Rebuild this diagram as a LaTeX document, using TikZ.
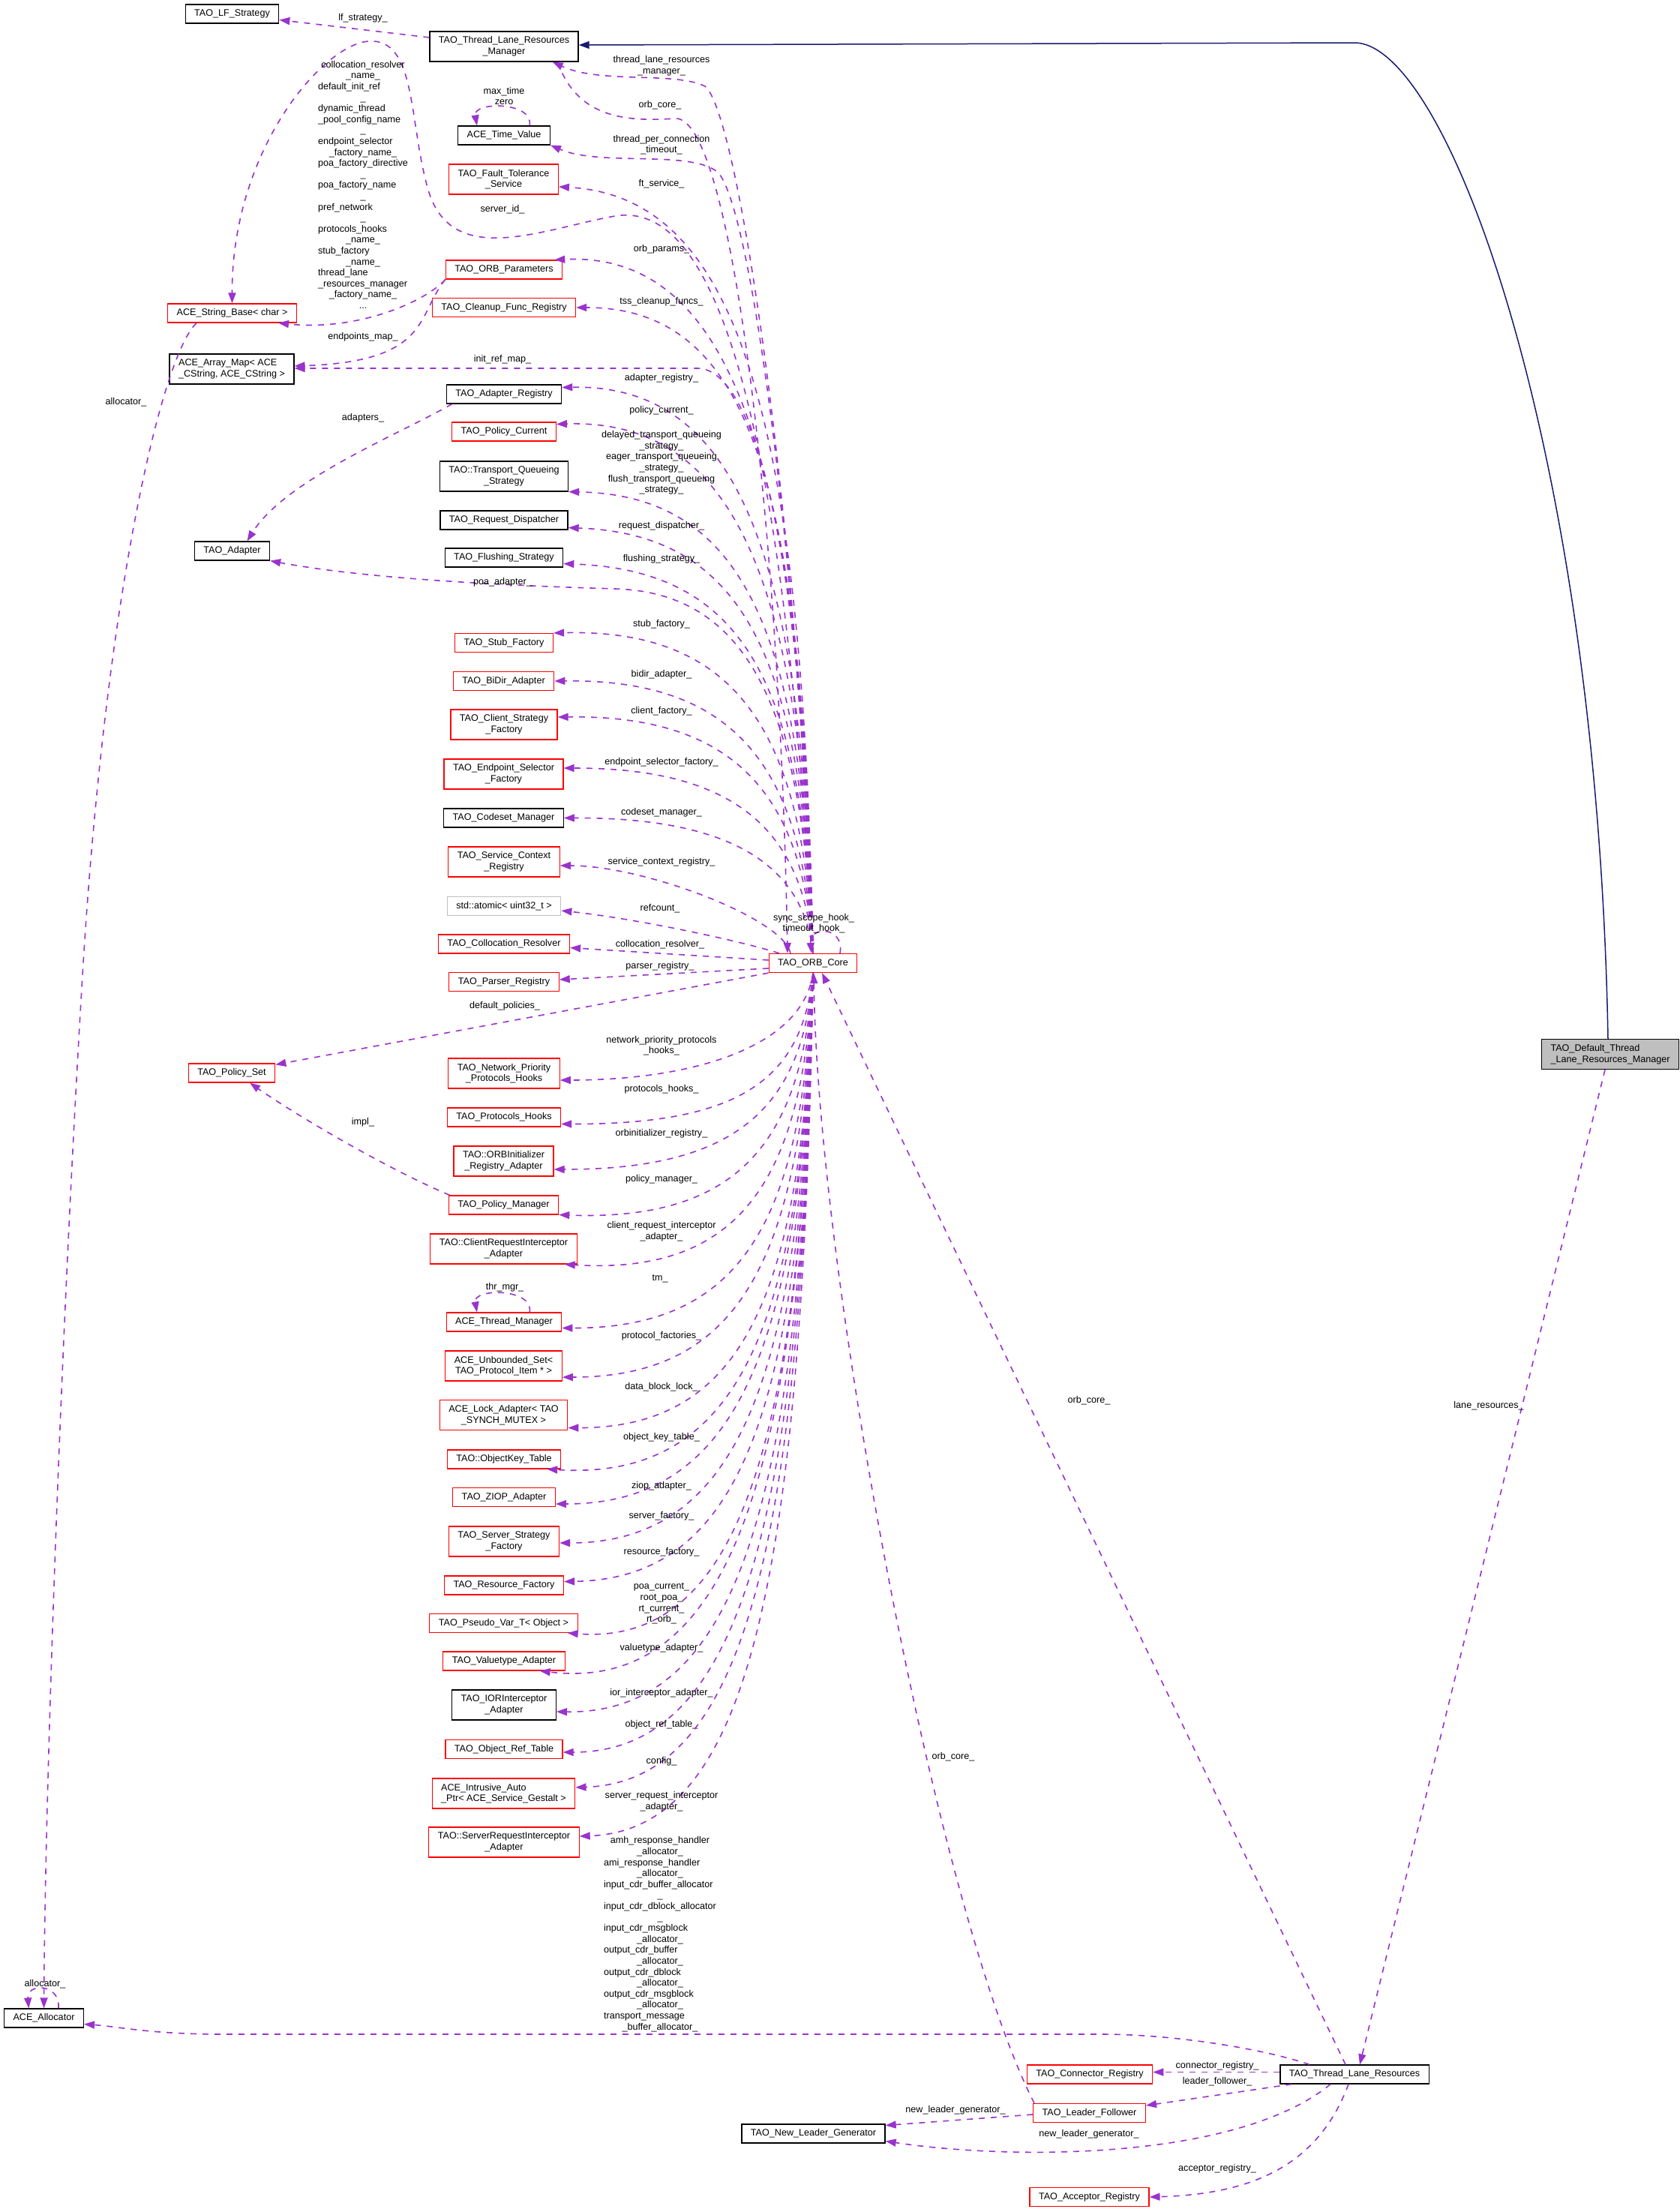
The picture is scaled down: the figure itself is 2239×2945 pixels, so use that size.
\documentclass[tikz,border=0pt]{standalone}
\usepackage{fontspec}
\setmainfont{Liberation Sans}
\usetikzlibrary{arrows.meta}
\newcommand{\dxfont}{\fontsize{12.6}{14.6}\selectfont}
\newcommand{\mcen}[1]{\multicolumn{1}{@{}c@{}}{#1}}
\definecolor{membercol}{HTML}{9A32CD}
\definecolor{basecol}{HTML}{191970}
\definecolor{rootfill}{HTML}{BFBFBF}

\begin{document}
\begin{tikzpicture}[
    x=1pt, y=-1pt,
    cls/.style={draw=black, line width=1.2pt, fill=white, inner xsep=12pt, inner ysep=0pt, minimum height=25pt, font=\dxfont, align=center},
    trunc/.style={cls, draw=red},
    tall/.style={minimum height=40pt},
    member/.style={draw=membercol, line width=1.6pt, dash pattern=on 8pt off 8pt, -{Triangle[length=14pt, width=10pt]}},
    base/.style={draw=basecol, line width=1.5pt, -{Triangle[length=14pt, width=10pt]}},
    lbl/.style={font=\dxfont, align=center, inner sep=0pt}]
\useasboundingbox (0,0) rectangle (2239,2945);

\node[cls] (lfstrat) at (309.5,18.5) {TAO\_LF\_Strategy};
\node[cls, tall] (tlrmgr) at (672,62) {TAO\_Thread\_Lane\_Resources\\\_Manager};
\node[cls] (timeval) at (672,180.5) {ACE\_Time\_Value};
\node[trunc, tall] (ftserv) at (671.5,239) {TAO\_Fault\_Tolerance\\\_Service};
\node[trunc] (orbparams) at (672,359.5) {TAO\_ORB\_Parameters};
\node[trunc] (cleanup) at (672,410) {TAO\_Cleanup\_Func\_Registry};
\node[trunc] (strbase) at (309.5,417.5) {ACE\_String\_Base< char >};
\node[cls, tall, align=left] (arraymap) at (309,492) {ACE\_Array\_Map< ACE\\\_CString, ACE\_CString >};
\node[cls] (adreg) at (672,525.5) {TAO\_Adapter\_Registry};
\node[trunc] (polcur) at (672,575.5) {TAO\_Policy\_Current};
\node[cls, tall] (tqstrat) at (672,635) {TAO::Transport\_Queueing\\\_Strategy};
\node[cls] (reqdisp) at (672,693.5) {TAO\_Request\_Dispatcher};
\node[cls] (flushstrat) at (672,743.5) {TAO\_Flushing\_Strategy};
\node[cls] (adapter) at (309.5,734.5) {TAO\_Adapter};
\node[trunc] (stubfac) at (672,857) {TAO\_Stub\_Factory};
\node[trunc] (bidir) at (671.5,908) {TAO\_BiDir\_Adapter};
\node[trunc, tall] (clientfac) at (672,966) {TAO\_Client\_Strategy\\\_Factory};
\node[trunc, tall] (epselfac) at (671.5,1032) {TAO\_Endpoint\_Selector\\\_Factory};
\node[cls] (codeset) at (671.5,1090.5) {TAO\_Codeset\_Manager};
\node[trunc, tall] (scr) at (672,1149) {TAO\_Service\_Context\\\_Registry};
\node[cls, draw=rootfill] (atomic) at (672,1208) {std::atomic< uint32\_t >};
\node[trunc] (colloc) at (672,1258.5) {TAO\_Collocation\_Resolver};
\node[trunc] (parser) at (672,1309) {TAO\_Parser\_Registry};
\node[trunc] (orbcore) at (1084,1284) {TAO\_ORB\_Core};
\node[cls, tall, align=left, fill=rootfill] (deftlrm) at (2147,1405.5) {TAO\_Default\_Thread\\\_Lane\_Resources\_Manager};
\node[trunc] (policyset) at (309,1430.5) {TAO\_Policy\_Set};
\node[trunc, tall] (nphooks) at (672,1431) {TAO\_Network\_Priority\\\_Protocols\_Hooks};
\node[trunc] (phooks) at (672,1489.5) {TAO\_Protocols\_Hooks};
\node[trunc, tall] (orbinit) at (671.5,1548) {TAO::ORBInitializer\\\_Registry\_Adapter};
\node[trunc] (polmgr) at (671.5,1606.5) {TAO\_Policy\_Manager};
\node[trunc, tall] (cria) at (671.5,1665) {TAO::ClientRequestInterceptor\\\_Adapter};
\node[trunc] (thrmgr) at (672,1762.5) {ACE\_Thread\_Manager};
\node[trunc, tall] (unbset) at (671.5,1821) {ACE\_Unbounded\_Set<\\TAO\_Protocol\_Item * >};
\node[trunc, tall] (lockad) at (671.5,1886.5) {ACE\_Lock\_Adapter< TAO\\\_SYNCH\_MUTEX >};
\node[trunc] (objkey) at (672,1945.5) {TAO::ObjectKey\_Table};
\node[trunc] (ziop) at (672,1996) {TAO\_ZIOP\_Adapter};
\node[trunc, tall] (srvfac) at (672,2055) {TAO\_Server\_Strategy\\\_Factory};
\node[trunc] (resfac) at (672,2113.5) {TAO\_Resource\_Factory};
\node[trunc] (pseudovar) at (671.5,2164) {TAO\_Pseudo\_Var\_T< Object >};
\node[trunc] (valtype) at (672,2214.5) {TAO\_Valuetype\_Adapter};
\node[cls, tall] (iorint) at (672,2273) {TAO\_IORInterceptor\\\_Adapter};
\node[trunc] (objref) at (672,2332) {TAO\_Object\_Ref\_Table};
\node[trunc, tall, align=left] (intrusive) at (671.5,2391) {ACE\_Intrusive\_Auto\\\_Ptr< ACE\_Service\_Gestalt >};
\node[trunc, tall] (sria) at (672,2456) {TAO::ServerRequestInterceptor\\\_Adapter};
\node[cls] (allocator) at (58.5,2690.5) {ACE\_Allocator};
\node[cls] (newleader) at (1084.5,2844.5) {TAO\_New\_Leader\_Generator};
\node[trunc] (connreg) at (1453,2765.5) {TAO\_Connector\_Registry};
\node[cls] (tlr) at (1806,2765.5) {TAO\_Thread\_Lane\_Resources};
\node[trunc] (leaderf) at (1452.5,2817) {TAO\_Leader\_Follower};
\node[trunc] (accreg) at (1452.5,2929) {TAO\_Acceptor\_Registry};

\draw[base] ([xshift=-3pt]deftlrm.north) .. controls (2130,600) and (1930,57) .. (1806,57) -- ([yshift=2pt]tlrmgr.east);

\draw[member] ([yshift=12pt]tlrmgr.west) -- ([yshift=-8pt]lfstrat.east) node[lbl] at (484,24) {lf\_strategy\_};
\draw[member] ([xshift=-28pt]tlrmgr.south east) .. controls (770,160) and (840,162) .. (900,158) .. controls (975,152) and (1040,700) .. ([xshift=-34pt]orbcore.north) node[lbl] at (880,140) {orb\_core\_};

\draw[member] (orbcore.north) .. controls (1065,700) and (985,150) .. (940,115) .. controls (900,95) and (800,112) .. ([xshift=-35pt]tlrmgr.south east) node[lbl] at (882,88) {thread\_lane\_resources\\\_manager\_};
\draw[member] (orbcore.north) .. controls (1065,750) and (1000,260) .. (955,228) .. controls (915,200) and (800,222) .. (timeval.south east) node[lbl] at (882,193) {thread\_per\_connection\\\_timeout\_};
\draw[member] (orbcore.north) .. controls (1070,556) and (985,262) .. ([yshift=-10pt]ftserv.east) node[lbl] at (882,245) {ft\_service\_};
\draw[member] (orbcore.north) .. controls (1040,450) and (930,270) .. (820,288) .. controls (720,306) and (600,360) .. (570,250) .. controls (545,160) and (555,50) .. (491,55) .. controls (430,60) and (309,200) .. (strbase.north) node[lbl] at (670,279) {server\_id\_};
\draw[member] (orbcore.north) .. controls (1070,624) and (980,335) .. ([xshift=-11pt]orbparams.north east) node[lbl] at (882,332) {orb\_params\_};
\draw[member] (orbcore.north) .. controls (1070,668) and (1010,410) .. (cleanup.east) node[lbl] at (882,402) {tss\_cleanup\_funcs\_};
\draw[member] (orbcore.north) .. controls (1070,700) and (1000,491) .. (930,491) -- ([yshift=1pt]arraymap.east) node[lbl] at (670,479) {init\_ref\_map\_};
\draw[member] (orbcore.north) .. controls (1070,742) and (985,512) .. ([yshift=9pt]adreg.east) node[lbl] at (882,504) {adapter\_registry\_};
\draw[member] (orbcore.north) .. controls (1070,777) and (980,558) .. ([yshift=10pt]polcur.east) node[lbl] at (882,547) {policy\_current\_};
\draw[member] (orbcore.north) .. controls (1070,840) and (990,660) .. (tqstrat.south east) node[lbl] at (882,617) {delayed\_transport\_queueing\\\_strategy\_\\eager\_transport\_queueing\\\_strategy\_\\flush\_transport\_queueing\\\_strategy\_};
\draw[member] (orbcore.north) .. controls (1070,874) and (990,712) .. ([yshift=-10pt]reqdisp.east) node[lbl] at (882,701) {request\_dispatcher\_};
\draw[member] (orbcore.north) .. controls (1070,907) and (990,760) .. ([yshift=-8pt]flushstrat.east) node[lbl] at (882,745) {flushing\_strategy\_};
\draw[member] (orbcore.north) .. controls (1070,950) and (1000,790) .. (820,785) .. controls (650,780) and (480,770) .. (adapter.south east) node[lbl] at (670,776) {poa\_adapter\_};
\draw[member] (orbcore.north) .. controls (1070,972) and (980,838) .. (stubfac.north east) node[lbl] at (882,832) {stub\_factory\_};
\draw[member] (orbcore.north) .. controls (1070,1017) and (975,905) .. (bidir.east) node[lbl] at (882,899) {bidir\_adapter\_};
\draw[member] (orbcore.north) .. controls (1070,1050) and (970,953) .. ([yshift=10pt]clientfac.east) node[lbl] at (882,948) {client\_factory\_};
\draw[member] (orbcore.north) .. controls (1070,1098) and (970,1024) .. ([yshift=8pt]epselfac.east) node[lbl] at (882,1016) {endpoint\_selector\_factory\_};
\draw[member] (orbcore.north) .. controls (1070,1144) and (960,1090) .. (codeset.east) node[lbl] at (882,1083) {codeset\_manager\_};
\draw[member] ([xshift=-30pt]orbcore.north) .. controls (1045,1225) and (860,1154) .. ([yshift=-5pt]scr.east) node[lbl] at (882,1149) {service\_context\_registry\_};
\draw[member] ([xshift=-45pt]orbcore.north) .. controls (990,1255) and (850,1225) .. ([yshift=-6pt]atomic.east) node[lbl] at (880,1211) {refcount\_};
\draw[member] ([yshift=4pt]orbcore.west) -- ([yshift=-5pt]colloc.east) node[lbl] at (880,1259) {collocation\_resolver\_};
\draw[member] ([yshift=-7pt]orbcore.west) -- ([yshift=3pt]parser.east) node[lbl] at (880,1288) {parser\_registry\_};
\draw[member] (orbcore.south west) -- ([yshift=-2pt]policyset.north east) node[lbl] at (673,1341) {default\_policies\_};
\draw[member] (orbcore.20) to[out=80, in=95, looseness=2.5] ([xshift=-2pt]orbcore.north) node[lbl] at (1085,1231) {sync\_scope\_hook\_\\timeout\_hook\_};

\draw[member] (orbcore.south) .. controls (1070,1397) and (921,1440) .. ([yshift=-9pt]nphooks.east) node[lbl] at (882,1394) {network\_priority\_protocols\\\_hooks\_};
\draw[member] (orbcore.south) .. controls (1070,1438) and (989,1499) .. ([yshift=-9pt]phooks.east) node[lbl] at (882,1452) {protocols\_hooks\_};
\draw[member] (orbcore.south) .. controls (1070,1480) and (979,1559) .. ([yshift=-11pt]orbinit.east) node[lbl] at (882,1511) {orbinitializer\_registry\_};
\draw[member] (orbcore.south) .. controls (1070,1522) and (985,1628) .. (polmgr.south east) node[lbl] at (882,1572) {policy\_manager\_};
\draw[member] (orbcore.south) .. controls (1070,1569) and (990,1700) .. ([xshift=-17pt]cria.south east) node[lbl] at (882,1642) {client\_request\_interceptor\\\_adapter\_};
\draw[member] (orbcore.south) .. controls (1070,1628) and (990,1771) .. ([yshift=-8pt]thrmgr.east) node[lbl] at (880,1705) {tm\_};
\draw[member] (orbcore.south) .. controls (1070,1674) and (990,1836) .. ([yshift=-15pt]unbset.east) node[lbl] at (882,1781) {protocol\_factories\_};
\draw[member] (orbcore.south) .. controls (1070,1721) and (995,1904) .. ([yshift=-17pt]lockad.east) node[lbl] at (882,1849) {data\_block\_lock\_};
\draw[member] (orbcore.south) .. controls (1070,1760) and (990,1975) .. ([xshift=-19pt]objkey.south east) node[lbl] at (882,1916) {object\_key\_table\_};
\draw[member] (orbcore.south) .. controls (1070,1793) and (985,2005) .. ([yshift=-9pt]ziop.east) node[lbl] at (882,1981) {ziop\_adapter\_};
\draw[member] (orbcore.south) .. controls (1070,1829) and (990,2057) .. ([yshift=-2pt]srvfac.east) node[lbl] at (882,2021) {server\_factory\_};
\draw[member] (orbcore.south) .. controls (1070,1865) and (995,2105) .. ([yshift=5pt]resfac.east) node[lbl] at (882,2069) {resource\_factory\_};
\draw[member] (orbcore.south) .. controls (1070,1913) and (990,2195) .. ([xshift=-14pt]pseudovar.south east) node[lbl] at (882,2138) {poa\_current\_\\root\_poa\_\\rt\_current\_\\rt\_orb\_};
\draw[member] (orbcore.south) .. controls (1070,1948) and (980,2258) .. ([xshift=-34pt]valtype.south east) node[lbl] at (882,2197) {valuetype\_adapter\_};
\draw[member] (orbcore.south) .. controls (1070,1986) and (990,2285) .. ([yshift=-9pt]iorint.east) node[lbl] at (882,2257) {ior\_interceptor\_adapter\_};
\draw[member] (orbcore.south) .. controls (1070,2024) and (990,2336) .. ([yshift=-4pt]objref.east) node[lbl] at (882,2299) {object\_ref\_table\_};
\draw[member] (orbcore.south) .. controls (1070,2057) and (995,2375) .. ([yshift=8pt]intrusive.east) node[lbl] at (882,2348) {config\_};
\draw[member] (orbcore.south) .. controls (1070,2103) and (1000,2440) .. ([yshift=8pt]sria.east) node[lbl] at (882,2402) {server\_request\_interceptor\\\_adapter\_};

\draw[member] (timeval.21) to[out=80, in=100, looseness=1.2] (timeval.160) node[lbl] at (672,128) {max\_time\\zero};
\draw[member] (thrmgr.21) to[out=80, in=100, looseness=1.2] (thrmgr.160) node[lbl] at (673,1716) {thr\_mgr\_};

\draw[member] (orbparams.south west) .. controls (570,400) and (480,442) .. ([xshift=-25pt]strbase.south east) node[lbl] at (484,248) {\begin{tabular}{@{}l@{}}
\mcen{collocation\_resolver}\\
\mcen{\_name\_}\\
default\_init\_ref\\
\mcen{\_}\\
dynamic\_thread\\
\_pool\_config\_name\\
\mcen{\_}\\
endpoint\_selector\\
\mcen{\_factory\_name\_}\\
poa\_factory\_directive\\
\mcen{\_}\\
poa\_factory\_name\\
\mcen{\_}\\
pref\_network\\
\mcen{\_}\\
protocols\_hooks\\
\mcen{\_name\_}\\
stub\_factory\\
\mcen{\_name\_}\\
thread\_lane\\
\_resources\_manager\\
\mcen{\_factory\_name\_}\\
\mcen{...}
\end{tabular}};
\draw[member] (orbparams.south west) .. controls (555,420) and (575,482) .. ([yshift=4pt]arraymap.east) node[lbl] at (484,449) {endpoints\_map\_};
\draw[member] ([xshift=8pt]adreg.south west) .. controls (530,580) and (380,640) .. ([xshift=20pt]adapter.north) node[lbl] at (484,557) {adapters\_};
\draw[member] ([xshift=2pt]polmgr.north west) .. controls (520,1560) and (400,1490) .. ([xshift=24pt]policyset.south) node[lbl] at (484,1496) {impl\_};

\draw[member] ([xshift=39pt]strbase.south west) .. controls (215,475) and (140,800) .. (110,1300) .. controls (80,1800) and (60,2400) .. (allocator.north) node[lbl] at (168,536) {allocator\_};
\draw[member] (allocator.34) to[out=85, in=95, looseness=2.2] (allocator.147) node[lbl] at (60,2645) {allocator\_};

\draw[member] ([xshift=-60pt]tlr.north) .. controls (1680,2730) and (1560,2712) .. (1470,2712) -- (300,2712) .. controls (200,2712) and (160,2702) .. ([yshift=-8pt]allocator.east) node[lbl] at (880,2579) {\begin{tabular}{@{}l@{}}
\mcen{amh\_response\_handler}\\
\mcen{\_allocator\_}\\
ami\_response\_handler\\
\mcen{\_allocator\_}\\
input\_cdr\_buffer\_allocator\\
\mcen{\_}\\
input\_cdr\_dblock\_allocator\\
\mcen{\_}\\
input\_cdr\_msgblock\\
\mcen{\_allocator\_}\\
output\_cdr\_buffer\\
\mcen{\_allocator\_}\\
output\_cdr\_dblock\\
\mcen{\_allocator\_}\\
output\_cdr\_msgblock\\
\mcen{\_allocator\_}\\
transport\_message\\
\mcen{\_buffer\_allocator\_}
\end{tabular}};
\draw[member] ([yshift=3pt]tlr.west) -- ([yshift=3pt]connreg.east) node[lbl] at (1623,2754) {connector\_registry\_};
\draw[member] ([xshift=16pt]tlr.south west) -- ([yshift=10pt]leaderf.east) node[lbl] at (1623,2775) {leader\_follower\_};
\draw[member] ([xshift=-32pt]tlr.south) .. controls (1650,2880) and (1350,2880) .. ([yshift=-10pt]newleader.east) node[lbl] at (1452,2845) {new\_leader\_generator\_};
\draw[member] ([xshift=-8pt]tlr.south) .. controls (1760,2880) and (1680,2925) .. (accreg.east) node[lbl] at (1623,2891) {acceptor\_registry\_};
\draw[member] ([yshift=-2pt]leaderf.west) -- ([yshift=11pt]newleader.east) node[lbl] at (1274,2813) {new\_leader\_generator\_};
\draw[member] ([xshift=2pt]leaderf.north west) .. controls (1250,2550) and (1090,1700) .. ([xshift=1pt]orbcore.south) node[lbl] at (1271,2342) {orb\_core\_};
\draw[member] ([xshift=-12pt]tlr.north) -- ([xshift=12pt]orbcore.south) node[lbl] at (1452,1867) {orb\_core\_};
\draw[member] ([xshift=-7pt]deftlrm.south) -- ([xshift=7pt]tlr.north) node[lbl] at (1985,1874) {lane\_resources\_};
\end{tikzpicture}
\end{document}
